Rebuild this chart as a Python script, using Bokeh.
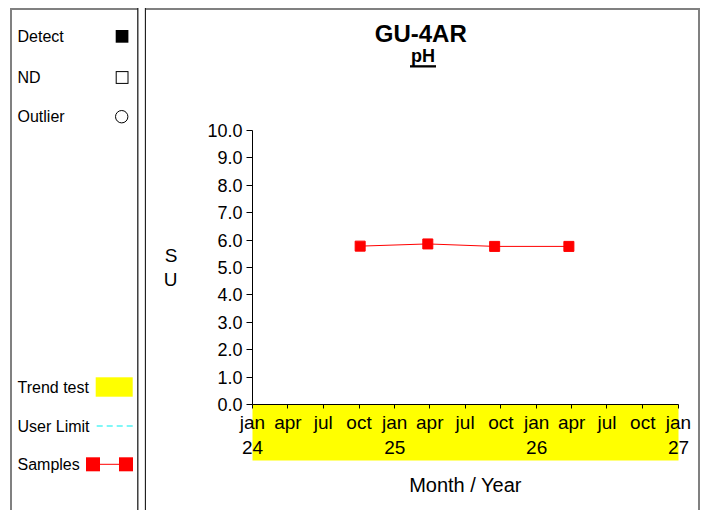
import pandas as pd
from bokeh.plotting import figure
from bokeh.layouts import row, column
from bokeh.models import (Range1d, FixedTicker, PrintfTickFormatter, LinearAxis, Div)
from bokeh.embed import file_html
from bokeh.resources import INLINE

# ---------------- data ----------------
station = "GU-4AR"
parameter = "pH"
units_label = "S\nU"
x_label = "Month / Year"

sample_dates = ["2024-10-04", "2025-03-27", "2025-09-15", "2026-03-25"]
sample_values = [5.78, 5.86, 5.77, 5.77]

x_start, x_end = "2024-01-01", "2027-01-01"
tick_dates = ["2024-01-01", "2024-04-01", "2024-07-01", "2024-10-01",
              "2025-01-01", "2025-04-01", "2025-07-01", "2025-10-01",
              "2026-01-01", "2026-04-01", "2026-07-01", "2026-10-01",
              "2027-01-01"]
tick_labels = ["jan\n24", "apr", "jul", "oct",
               "jan\n25", "apr", "jul", "oct",
               "jan\n26", "apr", "jul", "oct",
               "jan\n27"]
y_start, y_end = 0, 10
y_ticks = [0, 1, 2, 3, 4, 5, 6, 7, 8, 9, 10]

legend_labels = ["Detect", "ND", "Outlier", "Trend test", "User Limit", "Samples"]

FONT = "Liberation Sans"


def ms(d):
    return int(pd.Timestamp(d).value // 10**6)


# ---------------- sizes ----------------
W_L, W_C, H = 138, 554, 502
H_T = 80                     # title strip height
FL, FR, FT, FB = 106, 22, 42, 106   # frame borders inside chart canvas

# ---------------- chart ----------------
p = figure(width=W_C, height=H - H_T, output_backend="svg", toolbar_location=None,
           x_range=Range1d(ms(x_start), ms(x_end)),
           y_range=Range1d(y_start, y_end),
           min_border_left=FL, min_border_right=FR,
           min_border_top=FT, min_border_bottom=FB)
p.grid.visible = False
p.outline_line_color = None
p.background_fill_color = None
p.border_fill_color = None

tick_ms = [ms(d) for d in tick_dates]
xa = p.xaxis[0]
xa.ticker = FixedTicker(ticks=tick_ms)
xa.major_label_overrides = {t: lab for t, lab in zip(tick_ms, tick_labels)}
xa.minor_tick_line_color = None
xa.major_tick_in = 0
xa.major_tick_out = 4
xa.major_label_standoff = 3
xa.major_label_text_font = FONT
xa.major_label_text_font_size = "19px"
xa.major_label_text_color = "black"
xa.major_label_text_line_height = 1.2
xa.axis_line_color = "black"
xa.major_tick_line_color = "black"
xa.background_fill_color = "yellow"

xlab = LinearAxis(axis_label=x_label, ticker=FixedTicker(ticks=[]),
                  axis_line_color=None, major_tick_line_color=None,
                  minor_tick_line_color=None, major_label_text_font_size="0px",
                  axis_label_text_font=FONT, axis_label_text_font_size="20px",
                  axis_label_text_font_style="normal", axis_label_text_color="black",
                  axis_label_standoff=13)
p.add_layout(xlab, "below")

ya = p.yaxis[0]
ya.ticker = FixedTicker(ticks=y_ticks)
ya.formatter = PrintfTickFormatter(format="%.1f")
ya.bounds = (y_start, y_end)
ya.minor_tick_line_color = None
ya.major_tick_in = 0
ya.major_tick_out = 6
ya.major_label_standoff = 4
ya.major_label_text_font = FONT
ya.major_label_text_font_size = "18px"
ya.major_label_text_color = "black"
ya.axis_label = units_label
ya.axis_label_orientation = "horizontal"
ya.axis_label_text_font = FONT
ya.axis_label_text_font_size = "19px"
ya.axis_label_text_font_style = "normal"
ya.axis_label_text_color = "black"
ya.axis_label_text_line_height = 1.1
ya.axis_label_standoff = 27

xs = [ms(d) for d in sample_dates]
p.line(xs, sample_values, line_color="red", line_width=1)
p.scatter(xs, sample_values, marker="square", size=10,
          fill_color="red", line_color="red")

# ---------------- title strip (inline SVG) ----------------
title_svg = (
    '<svg xmlns="http://www.w3.org/2000/svg" width="%d" height="%d" style="display:block">'
    '<text x="274.8" y="34.3" text-anchor="middle" font-family="Liberation Sans" '
    'font-size="24px" font-weight="bold" fill="black">%s</text>'
    '<text x="277" y="53.9" text-anchor="middle" font-family="Liberation Sans" '
    'font-size="18px" font-weight="bold" fill="black">%s</text>'
    '<rect x="264" y="57.2" width="26" height="2.3" fill="black"/>'
    '</svg>' % (W_C, H_T, station, parameter))
title_div = Div(text=title_svg, width=W_C, height=H_T, margin=0)

right_panel = column(title_div, p, spacing=0,
                     styles={"box-shadow": "inset 0 2px 0 0 #808080, inset -2px 0 0 0 #808080"})

# ---------------- legend panel (inline SVG) ----------------
label_y = [28.7, 69.8, 108.5, 379, 418.3, 456.8]
svg = ['<svg xmlns="http://www.w3.org/2000/svg" width="%d" height="%d" '
       'style="display:block">' % (W_L, H)]
svg.append('<path d="M3 %d V1 H130" fill="none" stroke="#808080" stroke-width="2"/>' % H)
svg.append('<line x1="129.8" y1="0" x2="129.8" y2="%d" stroke="#222" stroke-width="1.3"/>' % H)
svg.append('<line x1="137.5" y1="0" x2="137.5" y2="%d" stroke="#222" stroke-width="1.3"/>' % H)
for lab, ly in zip(legend_labels, label_y):
    svg.append('<text x="9.5" y="%.1f" dominant-baseline="central" '
               'font-family="Liberation Sans" font-size="16px" fill="black">%s</text>'
               % (ly, lab))
svg.append('<rect x="107.7" y="22" width="12.7" height="12.7" fill="black"/>')
svg.append('<rect x="108.2" y="63.6" width="11.8" height="11.8" fill="white" stroke="black" stroke-width="1"/>')
svg.append('<circle cx="113.7" cy="108.7" r="6.2" fill="white" stroke="black" stroke-width="1"/>')
svg.append('<rect x="87.7" y="369.3" width="37" height="19.4" fill="yellow"/>')
svg.append('<line x1="88.7" y1="418" x2="124.7" y2="418" stroke="#7ff7f7" '
           'stroke-width="2" stroke-dasharray="6 4"/>')
svg.append('<line x1="85" y1="456.3" x2="118" y2="456.3" stroke="red" stroke-width="1"/>')
svg.append('<rect x="78" y="449.3" width="14" height="14" fill="red"/>')
svg.append('<rect x="111" y="449.3" width="14" height="14" fill="red"/>')
svg.append('</svg>')

legend = Div(text="".join(svg), width=W_L, height=H, margin=0)

layout = row(legend, right_panel, spacing=0, styles={"margin": "8px"})
open("out.html", "w").write(file_html(layout, INLINE))
